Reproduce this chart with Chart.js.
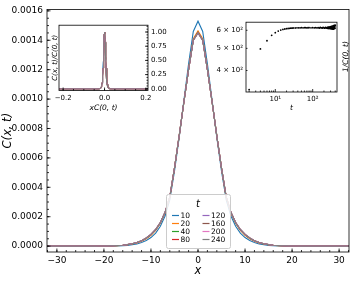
<!DOCTYPE html>
<html>
<head>
<meta charset="utf-8">
<script src="https://cdn.jsdelivr.net/npm/chart.js@4.4.1/dist/chart.umd.min.js"></script>
<style>
  body { margin: 0; background: #fff; }
  #wrap { position: relative; width: 352px; height: 285px; }
  canvas { position: absolute; }
</style>
</head>
<body>
<div id="wrap">
  <canvas id="main" width="352" height="285" style="left:0;top:0"></canvas>
  <canvas id="inset1" width="124" height="97" style="left:48px;top:18px"></canvas>
  <canvas id="inset2" width="152" height="100" style="left:200px;top:15px"></canvas>
</div>
<script>
// half profile positions (curves are symmetric about x = 0), C in units of 1e-4
const xPos = [0, 1, 2, 3, 4, 5, 6, 7, 8, 9, 10, 11, 12, 13, 14, 15, 16, 17, 18, 19, 20, 21, 22, 160];
const C_UNIT = 1e-4;
const tValues = [10, 20, 40, 80, 120, 160, 200, 240];

const c10  = [15.3, 14.6, 12.4, 9.9, 7.4, 5.1, 3.15, 2.05, 1.35, 0.88, 0.58, 0.38, 0.24, 0.15, 0.09, 0.05, 0.03, 0.015, 0.008, 0.003, 0, 0, 0, 0];
const c20  = [14.64, 14.1, 12.05, 9.8, 7.5, 5.3, 3.3, 2.25, 1.55, 1.07, 0.74, 0.5, 0.33, 0.22, 0.14, 0.09, 0.055, 0.035, 0.02, 0.012, 0.006, 0.003, 0.001, 0];
const c40  = [14.55, 14.02, 12.0, 9.8, 7.5, 5.3, 3.33, 2.28, 1.58, 1.1, 0.77, 0.53, 0.36, 0.24, 0.155, 0.1, 0.06, 0.038, 0.023, 0.014, 0.007, 0.004, 0.002, 0];
const c80  = [14.52, 14.0, 12.0, 9.8, 7.5, 5.3, 3.34, 2.3, 1.6, 1.12, 0.79, 0.545, 0.37, 0.25, 0.16, 0.1, 0.062, 0.04, 0.025, 0.015, 0.008, 0.004, 0.002, 0];
const c120 = [14.5, 14.0, 12.0, 9.8, 7.5, 5.3, 3.35, 2.3, 1.6, 1.13, 0.8, 0.55, 0.37, 0.25, 0.16, 0.1, 0.062, 0.04, 0.025, 0.015, 0.008, 0.004, 0.002, 0];
const c160 = [14.52, 13.98, 12.0, 9.8, 7.5, 5.3, 3.35, 2.31, 1.61, 1.13, 0.8, 0.55, 0.37, 0.25, 0.16, 0.1, 0.062, 0.04, 0.025, 0.015, 0.008, 0.004, 0.002, 0];
const c200 = [14.49, 14.0, 12.0, 9.8, 7.5, 5.3, 3.35, 2.3, 1.6, 1.13, 0.8, 0.55, 0.37, 0.25, 0.16, 0.1, 0.062, 0.04, 0.025, 0.015, 0.008, 0.004, 0.002, 0];
const c240 = [14.5, 14.0, 12.0, 9.8, 7.5, 5.3, 3.35, 2.3, 1.6, 1.13, 0.8, 0.55, 0.37, 0.25, 0.16, 0.1, 0.062, 0.04, 0.025, 0.015, 0.008, 0.004, 0.002, 0];
const profiles = [c10, c20, c40, c80, c120, c160, c200, c240];

const xTicks = [-30, -20, -10, 0, 10, 20, 30];
const yTicks = [0, 0.0002, 0.0004, 0.0006, 0.0008, 0.0010, 0.0012, 0.0014, 0.0016];

// inset 2: 1/C(0,t) against t
const tTimes = [2, 4, 6, 8, 10, 12, 14, 16, 18, 20, 22, 24, 26, 28, 30, 34, 38, 42, 46, 50, 55, 60, 65, 70, 75, 80, 90, 100,
  110, 120, 130, 140, 150, 160, 170, 180, 190, 200, 210, 220, 230, 240, 250, 255, 260, 265, 270, 275, 280, 285, 290, 295,
  300, 305, 310, 315, 320, 325, 330, 335, 340, 345, 350, 355, 360, 365, 370, 375, 380, 385, 390, 395, 400];
const invC0 = [330, 497, 540, 570, 586, 595, 601, 605, 608, 610, 611, 612, 613, 613, 614, 614, 615, 615, 615, 616, 615, 616, 616, 615, 616, 616, 615, 616,
  615, 616, 615, 616, 614, 617, 615, 614, 617, 615, 613, 618, 614, 616, 612, 619, 614, 617, 611, 620, 615, 612, 621, 614,
  610, 622, 616, 609, 624, 613, 618, 608, 626, 612, 620, 607, 628, 615, 622, 610, 630, 617, 625, 612, 632];

const colors = ['#1f77b4', '#ff7f0e', '#2ca02c', '#d62728', '#9467bd', '#8c564b', '#e377c2', '#7f7f7f'];
const FONT = '"DejaVu Sans", sans-serif';
Chart.defaults.font.family = FONT;
Chart.defaults.color = '#000';

function fullProfile(v) {
  const pts = [];
  for (let i = xPos.length - 1; i > 0; i--) pts.push({x: -xPos[i], y: v[i] * C_UNIT});
  for (let i = 0; i < xPos.length; i++) pts.push({x: xPos[i], y: v[i] * C_UNIT});
  return pts;
}
function scaledProfile(v) {
  return fullProfile(v).map(p => ({x: p.x * v[0] * C_UNIT, y: p.y / (v[0] * C_UNIT)}));
}
const minus = v => (Number(v) < 0 ? '\u2212' : '') + String(v).replace('-', '');

// frame + inward tick marks
const boxTicks = {
  id: 'boxTicks',
  beforeDraw(chart) {
    const {ctx, chartArea: a} = chart;
    ctx.save();
    ctx.fillStyle = '#fff';
    ctx.fillRect(a.left, a.top, a.right - a.left, a.bottom - a.top);
    ctx.restore();
  },
  afterDraw(chart, args, opts) {
    const {ctx, chartArea: a} = chart;
    ctx.save();
    ctx.strokeStyle = '#000';
    ctx.lineWidth = 0.8;
    ctx.strokeRect(a.left, a.top, a.right - a.left, a.bottom - a.top);
    (opts.marks || []).forEach(m => {
      const s = chart.scales[m.scale];
      m.values.forEach(v => {
        const p = s.getPixelForValue(v);
        ctx.beginPath();
        if (m.side === 'bottom') {
          if (p < a.left || p > a.right) return;
          ctx.moveTo(p, a.bottom); ctx.lineTo(p, a.bottom - m.len);
        } else if (m.side === 'left') {
          if (p < a.top || p > a.bottom) return;
          ctx.moveTo(a.left, p); ctx.lineTo(a.left + m.len, p);
        } else {
          if (p < a.top || p > a.bottom) return;
          ctx.moveTo(a.right, p); ctx.lineTo(a.right - m.len, p);
        }
        ctx.stroke();
      });
    });
    (opts.texts || []).forEach(t => {
      ctx.save();
      ctx.translate(t.x, t.y);
      ctx.rotate(t.rot || 0);
      ctx.font = t.font;
      ctx.fillStyle = '#000';
      ctx.textAlign = 'center';
      ctx.textBaseline = 'middle';
      ctx.fillText(t.text, 0, 0);
      ctx.restore();
    });
    ctx.restore();
  }
};

const tLegend = {
  id: 'tLegend',
  afterDraw(chart) {
    const ctx = chart.ctx;
    const x = 166, y = 194, w = 64, h = 54;
    ctx.save();
    ctx.fillStyle = 'rgba(255,255,255,0.85)';
    ctx.strokeStyle = '#cccccc';
    ctx.lineWidth = 1;
    ctx.beginPath();
    ctx.roundRect(x + 0.5, y + 0.5, w, h, 2);
    ctx.fill();
    ctx.stroke();
    ctx.fillStyle = '#000';
    ctx.textAlign = 'center';
    ctx.textBaseline = 'middle';
    ctx.font = 'italic 10px ' + FONT;
    ctx.fillText('t', x + w / 2, y + 10);
    ctx.font = '7.5px ' + FONT;
    ctx.textAlign = 'left';
    chart.data.datasets.forEach((ds, i) => {
      const col = Math.floor(i / 4), row = i % 4;
      const hx = 172 + col * 30.5, hy = 215.5 + row * 8;
      ctx.strokeStyle = ds.borderColor;
      ctx.lineWidth = 1.2;
      ctx.beginPath();
      ctx.moveTo(hx, hy); ctx.lineTo(hx + 7, hy);
      ctx.stroke();
      ctx.fillText(ds.label, hx + 8.5, hy + 0.5);
    });
    ctx.restore();
  }
};

const mainMinorX = [], mainMinorY = [], in1MinorX = [], in1MinorY = [];
for (let v = -32; v <= 32; v += 2) mainMinorX.push(v);
for (let k = -1; k <= 32; k++) mainMinorY.push(k * 0.00005);
for (let k = -4; k <= 4; k++) in1MinorX.push(k * 0.05);
for (let k = 0; k <= 22; k++) in1MinorY.push(k * 0.05);
const logMinor = [];
[1, 10, 100].forEach(d => { for (let m = 2; m <= 9; m++) logMinor.push(m * d); });

const noGrid = {display: false, drawTicks: false};

new Chart(document.getElementById('main'), {
  type: 'line',
  data: {
    datasets: profiles.map((p, i) => ({
      label: String(tValues[i]),
      data: fullProfile(p),
      borderColor: colors[i],
      borderWidth: 1.1,
      pointRadius: 0,
      tension: 0,
      order: 10 - i
    }))
  },
  options: {
    responsive: false,
    animation: false,
    layout: {padding: {top: 4, right: 3, left: 0, bottom: 0}},
    plugins: {
      legend: {display: false},
      tooltip: {enabled: false},
      boxTicks: {
        marks: [
          {scale: 'x', side: 'bottom', values: xTicks, len: 3.5},
          {scale: 'x', side: 'bottom', values: mainMinorX, len: 2},
          {scale: 'y', side: 'left', values: yTicks, len: 3.5},
          {scale: 'y', side: 'left', values: mainMinorY, len: 2}
        ]
      }
    },
    scales: {
      x: {
        type: 'linear', min: -32.1, max: 32.1,
        grid: noGrid, border: {display: false},
        afterBuildTicks: s => { s.ticks = xTicks.map(v => ({value: v})); },
        afterFit: s => { s.height = 33; },
        ticks: {padding: 3, font: {size: 9}, maxRotation: 0, callback: v => minus(v)},
        title: {display: true, text: 'x', font: {size: 11.5, style: 'italic'}, padding: {top: 0, bottom: 7}}
      },
      y: {
        type: 'linear', min: -0.00004, max: 0.00161,
        grid: noGrid, border: {display: false},
        afterBuildTicks: s => { s.ticks = yTicks.map(v => ({value: v})); },
        afterFit: s => { s.width = 47; },
        ticks: {padding: 4, font: {size: 9}, callback: v => v.toFixed(4)},
        title: {display: true, text: 'C(x, t)', font: {size: 11.5, style: 'italic'}, padding: {top: 1, bottom: 0}}
      }
    }
  },
  plugins: [boxTicks, tLegend]
});

new Chart(document.getElementById('inset1'), {
  type: 'line',
  data: {
    datasets: profiles.map((p, i) => ({
      data: scaledProfile(p),
      borderColor: colors[i],
      borderWidth: 0.9,
      pointRadius: 0,
      tension: 0,
      order: 10 - i
    }))
  },
  options: {
    responsive: false,
    animation: false,
    layout: {padding: {top: 3, right: 0, left: 0, bottom: 0}},
    plugins: {
      legend: {display: false},
      tooltip: {enabled: false},
      boxTicks: {
        marks: [
          {scale: 'x', side: 'bottom', values: [-0.2, 0, 0.2], len: 3},
          {scale: 'x', side: 'bottom', values: in1MinorX, len: 1.5},
          {scale: 'y', side: 'right', values: [0, 0.25, 0.5, 0.75, 1], len: 3},
          {scale: 'y', side: 'right', values: in1MinorY, len: 1.5}
        ]
      }
    },
    scales: {
      x: {
        type: 'linear', min: -0.22, max: 0.21,
        grid: noGrid, border: {display: false},
        afterBuildTicks: s => { s.ticks = [-0.2, 0, 0.2].map(v => ({value: v})); },
        afterFit: s => { s.height = 24.5; },
        ticks: {padding: 3, font: {size: 7}, maxRotation: 0, callback: v => minus(v.toFixed(1))},
        title: {display: true, text: 'xC(0, t)', font: {size: 7.5, style: 'italic'}, padding: {top: 0, bottom: 2.5}}
      },
      y: {
        type: 'linear', position: 'right', min: -0.03, max: 1.12,
        grid: noGrid, border: {display: false},
        afterBuildTicks: s => { s.ticks = [0, 0.25, 0.5, 0.75, 1].map(v => ({value: v})); },
        afterFit: s => { s.width = 24; },
        ticks: {padding: 3, font: {size: 7}, callback: v => v.toFixed(2)}
      },
      yl: {
        type: 'linear', position: 'left',
        grid: noGrid, border: {display: false},
        ticks: {display: false},
        afterFit: s => { s.width = 11; },
        title: {display: true, text: 'C(x, t)/C(0, t)', font: {size: 7, style: 'italic'}, padding: {top: 3, bottom: 0}}
      }
    }
  },
  plugins: [boxTicks]
});

new Chart(document.getElementById('inset2'), {
  type: 'scatter',
  data: {
    datasets: [{
      data: tTimes.map((t, i) => ({x: t, y: invC0[i]})),
      backgroundColor: '#000',
      borderWidth: 0,
      pointRadius: 0.9
    }]
  },
  options: {
    responsive: false,
    animation: false,
    layout: {padding: {top: 6, right: 15, left: 0, bottom: 0}},
    plugins: {
      legend: {display: false},
      tooltip: {enabled: false},
      boxTicks: {
        marks: [
          {scale: 'x', side: 'bottom', values: [10, 100], len: 3},
          {scale: 'x', side: 'bottom', values: logMinor, len: 1.5},
          {scale: 'y', side: 'left', values: [400, 500, 600], len: 1.5}
        ],
        texts: [{text: '1/C(0, t)', x: 146, y: 41.5, rot: -Math.PI / 2, font: 'italic 7.5px ' + FONT}]
      }
    },
    scales: {
      x: {
        type: 'logarithmic', min: 1.65, max: 446,
        grid: noGrid, border: {display: false},
        afterBuildTicks: s => { s.ticks = [10, 100].map(v => ({value: v})); },
        afterFit: s => { s.height = 23; },
        ticks: {padding: 3, font: {size: 7}, maxRotation: 0, callback: v => (v === 10 ? '10\u00b9' : '10\u00b2')},
        title: {display: true, text: 't', font: {size: 7.5, style: 'italic'}, padding: {top: 0, bottom: 2.5}}
      },
      y: {
        type: 'logarithmic', min: 322, max: 651,
        grid: noGrid, border: {display: false},
        afterBuildTicks: s => { s.ticks = [400, 500, 600].map(v => ({value: v})); },
        afterFit: s => { s.width = 46; },
        ticks: {padding: 3, font: {size: 7}, callback: v => (v / 100) + ' \u00d7 10\u00b2'}
      }
    }
  },
  plugins: [boxTicks]
});
</script>
</body>
</html>
